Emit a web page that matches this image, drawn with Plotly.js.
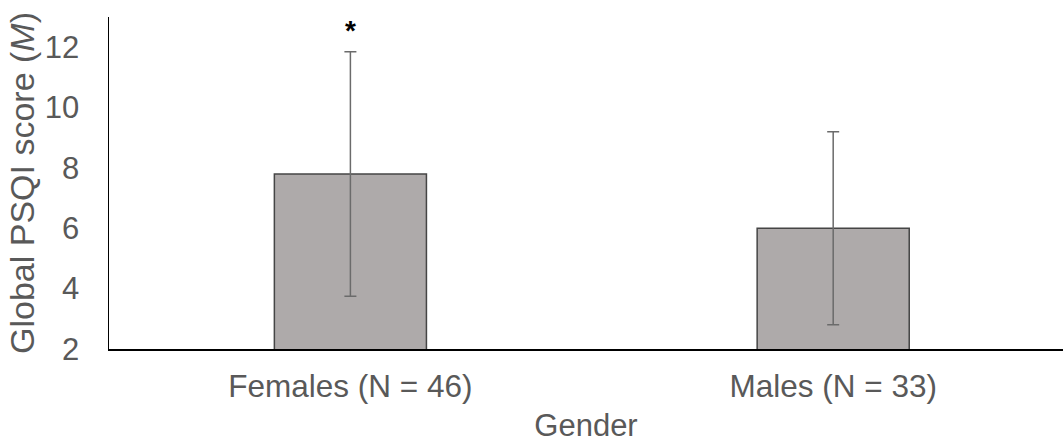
<!DOCTYPE html>
<html>
<head>
<meta charset="utf-8">
<script src="https://cdn.plot.ly/plotly-3.0.1.min.js"></script>
<style>
  html, body { margin: 0; padding: 0; background: #fff; overflow: hidden; }
  #chart { width: 1063px; height: 443px; }
</style>
</head>
<body>
<div id="chart"></div>
<script>
// Data
const categories = ["Females (N = 46)", "Males (N = 33)"];
const meanScores = [7.8, 6.0];
const sdScores = [4.05, 3.2];
const significance = ["*", ""];
const yTickValues = [2, 4, 6, 8, 10, 12];
const yTickLabels = ["2", "4", "6", "8", "10", "12"];

const FONT = "Liberation Sans, Arial, sans-serif";
const TEXT_COLOR = "#595959";

const trace = {
  type: "bar",
  x: categories,
  y: meanScores,
  width: 0.315,
  marker: {
    color: "#AEAAAA",
    line: { color: "#454545", width: 1.5 }
  },
  error_y: {
    type: "data",
    array: sdScores,
    visible: true,
    color: "#6b6b6b",
    thickness: 1.5,
    width: 6
  },
  hoverinfo: "none"
};

const annotations = categories
  .map((c, i) => ({ c, i }))
  .filter(o => significance[o.i])
  .map(o => ({
    x: o.c,
    y: meanScores[o.i] + sdScores[o.i],
    xref: "x",
    yref: "y",
    text: "<b>" + significance[o.i] + "</b>",
    showarrow: false,
    yanchor: "bottom",
    yshift: 4,
    font: { family: FONT, size: 28, color: "#000000" }
  }));

const layout = {
  width: 1063,
  height: 443,
  margin: { l: 109, r: 0, t: 17, b: 94, pad: 0 },
  paper_bgcolor: "#ffffff",
  plot_bgcolor: "#ffffff",
  showlegend: false,
  bargap: 0,
  xaxis: {
    type: "category",
    range: [-0.5, 1.476],
    showline: true,
    linecolor: "#000000",
    linewidth: 1.8,
    showgrid: false,
    zeroline: false,
    ticks: "",
    tickfont: { family: FONT, size: 31.5, color: TEXT_COLOR },
    ticklabelstandoff: 8,
    title: {
      text: "Gender",
      font: { family: FONT, size: 31, color: TEXT_COLOR },
      standoff: 16
    },
    automargin: false
  },
  yaxis: {
    range: [2, 13],
    tickvals: yTickValues,
    ticktext: yTickLabels,
    showline: true,
    linecolor: "#000000",
    linewidth: 1.5,
    showgrid: false,
    zeroline: false,
    ticks: "",
    tickfont: { family: FONT, size: 31, color: TEXT_COLOR },
    ticklabelstandoff: 22,
    title: {
      text: "Global PSQI score (<i>M</i>)",
      font: { family: FONT, size: 34, color: TEXT_COLOR },
      standoff: 0
    },
    automargin: false
  },
  annotations: annotations
};

Plotly.newPlot("chart", [trace], layout, { staticPlot: true, displayModeBar: false });
</script>
</body>
</html>
